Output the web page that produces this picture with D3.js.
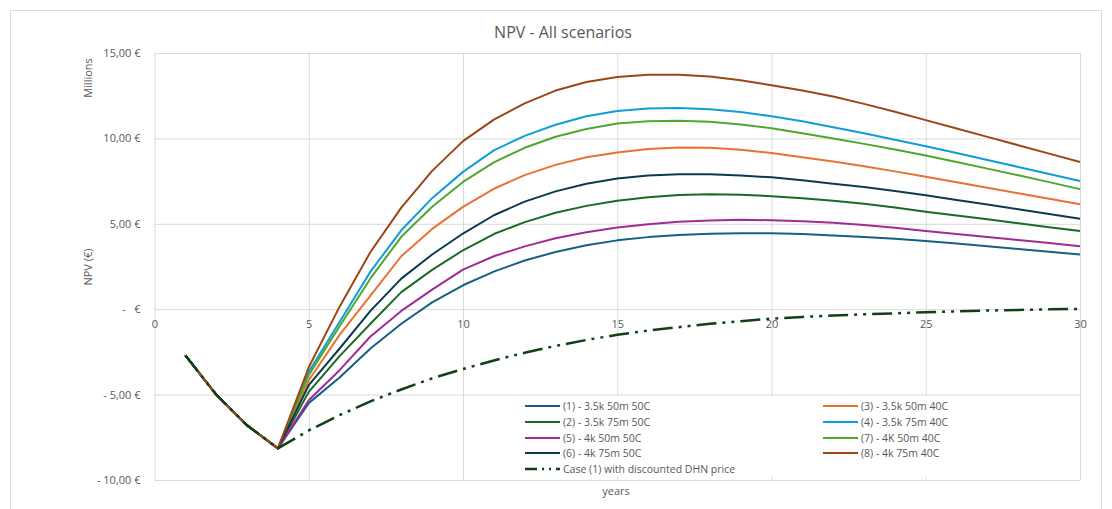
<!DOCTYPE html>
<html>
<head>
<meta charset="utf-8">
<script src="https://cdn.jsdelivr.net/npm/d3@7"></script>
<style>
  html, body { margin: 0; padding: 0; background: #ffffff; }
  text { font-family: "Open Sans", "Noto Sans", sans-serif; fill: #595959; }
</style>
</head>
<body>
<svg id="chart" width="1112" height="509"></svg>
<script>
// Years of the project horizon
const years = d3.range(1, 31);

// Series names, in plotting order
const seriesNames = [
  "(1) - 3.5k 50m 50C",
  "(3) - 3.5k 50m 40C",
  "(2) - 3.5k 75m 50C",
  "(4) - 3.5k 75m 40C",
  "(5) - 4k 50m 50C",
  "(7) - 4K 50m 40C",
  "(6) - 4k 75m 50C",
  "(8) - 4k 75m 40C",
  "Case (1) with discounted DHN price"
];

// NPV in millions of euro, years 1..30
const npv1 = [-2.7, -5.0, -6.8, -8.15, -5.5, -4.0, -2.3, -0.85, 0.4, 1.4, 2.2, 2.85, 3.35, 3.75, 4.03, 4.22, 4.35, 4.42, 4.45, 4.44, 4.4, 4.32, 4.22, 4.12, 4.0, 3.85, 3.69, 3.53, 3.37, 3.2];
const npv3 = [-2.7, -5.0, -6.8, -8.15, -4.16, -1.5, 0.8, 3.1, 4.7, 5.99, 7.05, 7.85, 8.45, 8.9, 9.18, 9.38, 9.47, 9.45, 9.33, 9.15, 8.9, 8.65, 8.37, 8.07, 7.75, 7.43, 7.11, 6.79, 6.47, 6.15];
const npv2 = [-2.7, -5.0, -6.8, -8.15, -4.84, -2.75, -0.85, 1.0, 2.3, 3.45, 4.4, 5.1, 5.65, 6.05, 6.35, 6.55, 6.68, 6.73, 6.7, 6.62, 6.5, 6.35, 6.17, 5.95, 5.7, 5.48, 5.26, 5.03, 4.8, 4.58];
const npv4 = [-2.7, -5.0, -6.8, -8.15, -3.67, -0.75, 2.2, 4.62, 6.5, 8.04, 9.3, 10.15, 10.8, 11.3, 11.6, 11.75, 11.78, 11.7, 11.55, 11.3, 11.0, 10.65, 10.3, 9.92, 9.54, 9.14, 8.74, 8.33, 7.92, 7.51];
const npv5 = [-2.7, -5.0, -6.8, -8.15, -5.33, -3.57, -1.6, -0.1, 1.15, 2.32, 3.1, 3.68, 4.15, 4.5, 4.78, 4.98, 5.12, 5.2, 5.23, 5.21, 5.15, 5.06, 4.93, 4.77, 4.58, 4.4, 4.23, 4.05, 3.87, 3.69];
const npv7 = [-2.7, -5.0, -6.8, -8.15, -3.86, -1.0, 1.8, 4.24, 6.0, 7.45, 8.6, 9.45, 10.1, 10.55, 10.87, 11.0, 11.03, 10.98, 10.82, 10.6, 10.3, 10.0, 9.68, 9.35, 9.0, 8.62, 8.23, 7.84, 7.44, 7.03];
const npv6 = [-2.7, -5.0, -6.8, -8.15, -4.45, -2.3, -0.1, 1.79, 3.2, 4.43, 5.5, 6.3, 6.9, 7.35, 7.65, 7.83, 7.9, 7.9, 7.83, 7.72, 7.55, 7.35, 7.15, 6.92, 6.67, 6.4, 6.13, 5.85, 5.57, 5.29];
const npv8 = [-2.7, -5.0, -6.8, -8.15, -3.4, 0.15, 3.35, 5.95, 8.1, 9.84, 11.1, 12.05, 12.8, 13.3, 13.6, 13.72, 13.72, 13.62, 13.4, 13.11, 12.8, 12.45, 12.02, 11.56, 11.07, 10.58, 10.09, 9.6, 9.11, 8.62];
const npvDiscounted = [-2.7, -5.0, -6.8, -8.15, -7.1, -6.2, -5.4, -4.7, -4.05, -3.5, -3.0, -2.55, -2.15, -1.8, -1.5, -1.25, -1.05, -0.85, -0.7, -0.55, -0.45, -0.37, -0.3, -0.24, -0.18, -0.13, -0.08, -0.04, -0.01, 0.02];

const seriesValues = [npv1, npv3, npv2, npv4, npv5, npv7, npv6, npv8, npvDiscounted];
const seriesColors = ["#156082", "#E97132", "#196B24", "#0F9ED5", "#A02B93", "#4EA72E", "#0C3A4E", "#9C4616", "#0F4016"];

// Axis ticks
const xTicks = [0, 5, 10, 15, 20, 25, 30];
const yTicks = [-10, -5, 0, 5, 10, 15];

const svg = d3.select("#chart");

// Chart area frame
svg.append("rect")
  .attr("x", 10.5).attr("y", 10.5)
  .attr("width", 1091).attr("height", 520)
  .attr("fill", "#ffffff")
  .attr("stroke", "#d9d9d9").attr("stroke-width", 1);

const x = d3.scaleLinear().domain([0, 30]).range([154.5, 1080]);
const y = d3.scaleLinear().domain([-10, 15]).range([480, 53]);

const euro = v => {
  if (v === 0) return "-   €";
  const s = Math.abs(v).toFixed(2).replace(".", ",") + " €";
  return v < 0 ? "- " + s : s;
};

// Horizontal gridlines with value labels
const yAxis = svg.append("g")
  .attr("transform", `translate(${x(0)},0)`)
  .call(d3.axisLeft(y).tickValues(yTicks).tickFormat(euro)
    .tickSize(-(x(30) - x(0))).tickPadding(14));
yAxis.select(".domain").remove();
yAxis.selectAll(".tick line").attr("stroke", "#d9d9d9").attr("stroke-width", 1);
yAxis.selectAll(".tick text")
  .style("font-size", "11px").style("white-space", "pre").attr("fill", "#595959");

// Vertical gridlines
const xGrid = svg.append("g")
  .attr("transform", `translate(0,${y(-10)})`)
  .call(d3.axisBottom(x).tickValues(xTicks).tickFormat("")
    .tickSize(-(y(-10) - y(15))));
xGrid.select(".domain").remove();
xGrid.selectAll(".tick line").attr("stroke", "#d9d9d9").attr("stroke-width", 1);

// Year labels sitting under the zero line
const xAxis = svg.append("g")
  .attr("transform", `translate(0,${y(0)})`)
  .call(d3.axisBottom(x).tickValues(xTicks).tickFormat(d3.format("d"))
    .tickSize(0).tickPadding(11));
xAxis.select(".domain").remove();
xAxis.selectAll(".tick text").style("font-size", "11px").attr("fill", "#595959");

// Title and axis titles
svg.append("text")
  .attr("x", 563).attr("y", 38)
  .attr("text-anchor", "middle")
  .style("font-size", "16px")
  .text("NPV - All scenarios");

svg.append("text")
  .attr("transform", "translate(92,78) rotate(-90)")
  .attr("text-anchor", "middle")
  .style("font-size", "11px")
  .text("Millions");

svg.append("text")
  .attr("transform", "translate(92,267) rotate(-90)")
  .attr("text-anchor", "middle")
  .style("font-size", "11px")
  .text("NPV (€)");

svg.append("text")
  .attr("x", 616).attr("y", 495)
  .attr("text-anchor", "middle")
  .style("font-size", "11px")
  .text("years");

// Series lines
const line = d3.line()
  .x((d, i) => x(years[i]))
  .y(d => y(d))
  .curve(d3.curveLinear);

const dashPattern = "20 6 3 6 3 6";

seriesValues.forEach((vals, i) => {
  const isDashed = i === seriesValues.length - 1;
  svg.append("path")
    .datum(vals)
    .attr("d", line)
    .attr("fill", "none")
    .attr("stroke", seriesColors[i])
    .attr("stroke-width", isDashed ? 2.5 : 2)
    .attr("stroke-linejoin", "round")
    .attr("stroke-dasharray", isDashed ? dashPattern : null);
});

// Legend: two columns, row-major order
const legend = svg.append("g");
legend.append("rect")
  .attr("x", 516).attr("y", 396)
  .attr("width", 440).attr("height", 81)
  .attr("fill", "#ffffff");

const legendCols = [525, 823];
const legendRows = [406, 422, 438, 453, 469];
seriesNames.forEach((name, i) => {
  const col = i % 2;
  const row = Math.floor(i / 2);
  const isDashed = i === seriesNames.length - 1;
  const lx = legendCols[col];
  const ly = legendRows[row];
  legend.append("line")
    .attr("x1", lx).attr("x2", lx + 35)
    .attr("y1", ly).attr("y2", ly)
    .attr("stroke", seriesColors[i])
    .attr("stroke-width", isDashed ? 2.5 : 2)
    .attr("stroke-dasharray", isDashed ? "12 5 2 5 2 5" : null);
  legend.append("text")
    .attr("x", lx + 38).attr("y", ly)
    .attr("dy", "0.35em")
    .style("font-size", "10.5px")
    .text(name);
});
</script>
</body>
</html>
